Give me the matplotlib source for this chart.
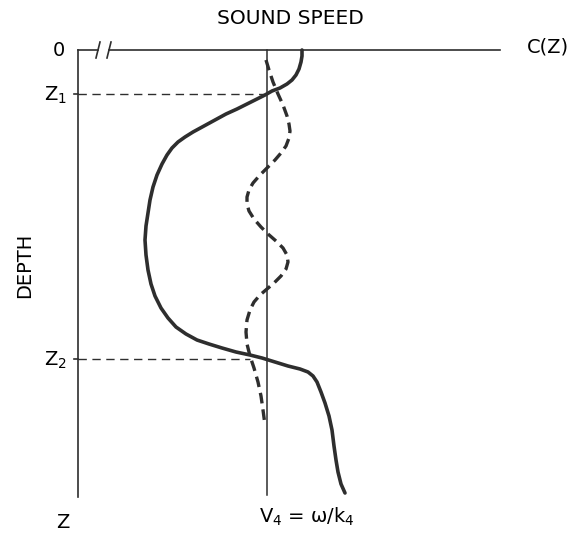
#Sketch of a sound speed profile C(Z) against depth, with the mode 4 phase speed
#and the dashed mode shape oscillating between the turning depths Z1 and Z2.

import matplotlib
matplotlib.use("Agg")
import matplotlib.pyplot as plt

#coordinates in chart units: speed to the right of the depth axis, depth down from the surface
#sound speed profile, solid curve
c_speed = [224, 224, 223, 221, 218, 214, 209, 202, 194, 187, 179, 169, 159, 148, 137, 126, 115, 107, 100, 94,
           89, 84, 79, 75, 72, 70, 68, 67, 68, 70, 73, 77, 83, 90, 98, 108, 119, 131, 144, 158,
           172, 184, 197, 210, 222, 230, 235, 239, 243, 247, 251, 254, 256, 258, 260, 263, 267]
c_depth = [0, 6, 12, 19, 25, 30, 34, 38, 41, 45, 49, 54, 59, 64, 70, 76, 82, 87, 92, 98,
           105, 114, 125, 137, 150, 163, 176, 190, 205, 220, 234, 246, 258, 268, 277, 284, 290, 294, 298, 302,
           305, 308, 312, 316, 319, 322, 326, 332, 342, 353, 366, 380, 396, 410, 422, 434, 443]

#mode shape, dashed curve
m_speed = [188, 191, 195, 200, 205, 209, 211, 212, 211, 208, 203, 197, 190, 182, 175, 171, 169, 169, 171, 176,
           183, 190, 198, 205, 209, 210, 208, 203, 196, 189, 182, 176, 172, 169, 168, 169, 172, 176, 180, 183,
           185, 187]
m_depth = [10, 20, 32, 44, 55, 66, 74, 81, 88, 96, 103, 110, 117, 125, 133, 140, 147, 154, 161, 169,
           177, 184, 191, 198, 205, 212, 219, 226, 233, 239, 245, 252, 260, 270, 282, 294, 306, 318, 332, 346,
           360, 375]

#phase speed V4 and turning depths
v4 = 189
z1 = 44
z2 = 309
z_bottom = 447
c_end = 422
break_at = [20, 31]

ink = "#2e2e2e"

fig = plt.figure(figsize=(5.71, 5.34), dpi=100)
ax = fig.add_axes([0, 0, 1, 1])
ax.set_xlim(-78, 493)
ax.set_ylim(484, -50)
ax.axis("off")

#axes of the sketch
ax.plot([0, 0], [0, z_bottom], color=ink, lw=1.2)
ax.plot([0, break_at[0]], [0, 0], color=ink, lw=1.2)
ax.plot([break_at[1], c_end], [0, 0], color=ink, lw=1.2)
for b in break_at:
    ax.plot([b - 2, b + 2], [8, -8], color=ink, lw=1.2)
ax.plot([v4, v4], [0, z_bottom - 2], color=ink, lw=1.1)

#turning depths
ax.plot([-4, 0], [z1, z1], color=ink, lw=1.2)
ax.plot([-4, 0], [z2, z2], color=ink, lw=1.2)
ax.plot([0, v4], [z1, z1], color=ink, lw=1.0, dashes=(6, 4))
ax.plot([0, 172], [z2, z2], color=ink, lw=1.0, dashes=(6, 4))

#curves
ax.plot(c_speed, c_depth, color=ink, lw=2.6, solid_joinstyle="round", solid_capstyle="round")
ax.plot(m_speed, m_depth, color=ink, lw=2.4, dashes=(3.2, 1.8), dash_joinstyle="round")

#labels
ax.text(212, -31, "SOUND SPEED", fontsize=14.5, ha="center", va="center")
ax.text(470, -3, "C(Z)", fontsize=14, ha="center", va="center")
ax.text(-19, 0, "0", fontsize=14, ha="center", va="center")
ax.text(-23, z1 + 1, "Z$_1$", fontsize=14, ha="center", va="center")
ax.text(-23, z2 + 1, "Z$_2$", fontsize=14, ha="center", va="center")
ax.text(-15, 473, "Z", fontsize=14, ha="center", va="center")
ax.text(-53, 215, "DEPTH", fontsize=14, ha="center", va="center", rotation=90)
ax.text(229, 467, "V$_4$ = \u03c9/k$_4$", fontsize=14, ha="center", va="center")

fig.savefig("out.png", dpi=100)
